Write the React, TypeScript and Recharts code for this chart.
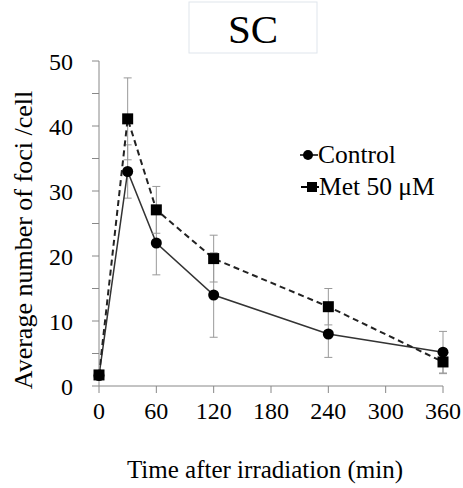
import React from 'react';
import { ComposedChart, Line, XAxis, YAxis, ErrorBar, Customized } from 'recharts';

const times = [0, 30, 60, 120, 240, 360];
const controlValues = [1.6, 33.0, 22.0, 14.0, 8.0, 5.2];
const controlErrors = [0.5, 4.1, 4.9, 6.5, 3.6, 3.2];
const metValues = [1.7, 41.1, 27.1, 19.6, 12.2, 3.7];
const metErrors = [0.5, 6.3, 3.6, 3.6, 2.8, 1.8];
const xTicks = [0, 60, 120, 180, 240, 300, 360];
const yTicks = [0, 5, 10, 15, 20, 25, 30, 35, 40, 45, 50];

const data = times.map((t, i) => ({
  t,
  control: controlValues[i],
  controlErr: controlErrors[i],
  met: metValues[i],
  metErr: metErrors[i],
}));

const FONT = "'Liberation Serif', 'Times New Roman', serif";
const serif = { fontFamily: FONT };

const SquareDot = (props: any) => {
  const { cx, cy, index } = props;
  if (cx == null || cy == null) return <g key={`s-${index}`} />;
  return <rect key={`s-${index}`} x={cx - 5.5} y={cy - 5.5} width={11} height={11} fill="#000" />;
};

const CircleDot = (props: any) => {
  const { cx, cy, index } = props;
  if (cx == null || cy == null) return <g key={`c-${index}`} />;
  return <circle key={`c-${index}`} cx={cx} cy={cy} r={5.5} fill="#000" />;
};

const Overlay = () => (
  <g>
    <rect x={189} y={2} width={128} height={51} fill="#fff" stroke="#dfe5ec" strokeWidth={1} />
    <text x={253} y={43} textAnchor="middle" style={{ ...serif, fontSize: 41 }} fill="#000">SC</text>
    <g>
      <line x1={300} y1={155} x2={318} y2={155} stroke="#000" strokeWidth={1.5} />
      <circle cx={308} cy={155} r={5} fill="#000" />
      <text x={318} y={163} style={{ ...serif, fontSize: 25.5 }} fill="#000">Control</text>
    </g>
    <g>
      <line x1={301} y1={187} x2={319} y2={187} stroke="#000" strokeWidth={2} />
      <rect x={307} y={182} width={10} height={10} fill="#000" />
      <text x={319} y={195} style={{ ...serif, fontSize: 25.5 }} fill="#000">Met 50 μM</text>
    </g>
    <text
      x={0}
      y={0}
      transform="translate(32,240) rotate(-90)"
      textAnchor="middle"
      style={{ ...serif, fontSize: 26 }}
      fill="#000"
    >
      Average number of  foci /cell
    </text>
    <text x={265} y={478} textAnchor="middle" style={{ ...serif, fontSize: 25 }} fill="#000">
      Time after irradiation (min)
    </text>
  </g>
);

export default function App() {
  return (
    <div style={{ position: 'absolute', left: 0, top: 0, width: 463, height: 488, background: '#fff', fontFamily: FONT }}>
      <ComposedChart
        width={463}
        height={488}
        data={data}
        margin={{ top: 61, right: 20, bottom: 62, left: 39 }}
        style={{ fontFamily: FONT }}
      >
        <XAxis
          dataKey="t"
          type="number"
          domain={[0, 360]}
          ticks={xTicks}
          tickLine={{ stroke: '#888' }}
          axisLine={{ stroke: '#888' }}
          tickSize={7}
          height={40}
          tick={{ fontSize: 24, fill: '#000', style: serif }}
          tickMargin={9}
          interval={0}
        />
        <YAxis
          type="number"
          domain={[0, 50]}
          ticks={yTicks}
          width={60}
          tickLine={{ stroke: '#888' }}
          axisLine={{ stroke: '#888' }}
          tickSize={7}
          tickMargin={19}
          interval={0}
          tick={{ fontSize: 24, fill: '#000', style: serif }}
          tickFormatter={(v: number) => (v % 10 === 0 ? String(v) : '')}
        />
        <Line
          type="linear"
          dataKey="control"
          stroke="#333"
          strokeWidth={1.5}
          dot={CircleDot}
          activeDot={false}
          isAnimationActive={false}
        >
          <ErrorBar dataKey="controlErr" width={4} stroke="#999" strokeWidth={1} />
        </Line>
        <Line
          type="linear"
          dataKey="met"
          stroke="#222"
          strokeWidth={2}
          strokeDasharray="6 4"
          dot={SquareDot}
          activeDot={false}
          isAnimationActive={false}
        >
          <ErrorBar dataKey="metErr" width={4} stroke="#999" strokeWidth={1} />
        </Line>
        <Customized component={Overlay} />
      </ComposedChart>
    </div>
  );
}
